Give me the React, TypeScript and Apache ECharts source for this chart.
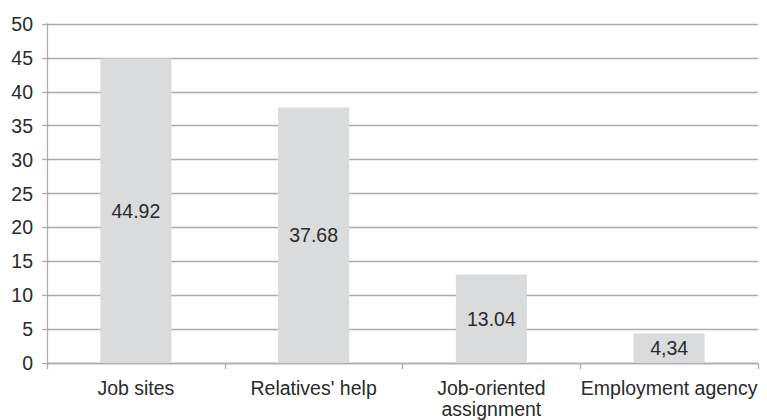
import React, { useEffect, useRef } from "react";
import * as echarts from "echarts";

const categories = ["Job sites", "Relatives' help", "Job-oriented\nassignment", "Employment agency"];
const values = [44.92, 37.68, 13.04, 4.34];
const valueLabels = ["44.92", "37.68", "13.04", "4,34"];

const TEXT = "#2a2a2a";
const LINE = "#adadad";
const FONT = "'Liberation Sans', Arial, sans-serif";
const FS = 19.5;

export default function App() {
  const ref = useRef<HTMLDivElement>(null);
  useEffect(() => {
    if (!ref.current) return;
    const chart = echarts.init(ref.current, undefined, { renderer: "svg" });
    chart.setOption({
      animation: false,
      textStyle: { fontFamily: FONT },
      grid: { left: 47, right: 9, top: 24, bottom: 57, containLabel: false },
      xAxis: {
        type: "category",
        data: categories,
        axisLine: { show: true, lineStyle: { color: LINE, width: 1.3 } },
        axisTick: { show: true, length: 6, lineStyle: { color: LINE, width: 1.3 } },
        axisLabel: { color: TEXT, fontSize: FS, fontFamily: FONT, margin: 14, lineHeight: 21, interval: 0 },
      },
      yAxis: {
        type: "value",
        min: 0,
        max: 50,
        interval: 5,
        axisLine: { show: true, lineStyle: { color: LINE, width: 1.3 } },
        axisTick: { show: true, length: 5, lineStyle: { color: LINE, width: 1.3 } },
        axisLabel: { color: TEXT, fontSize: FS, fontFamily: FONT, margin: 14 },
        splitLine: { show: true, lineStyle: { color: LINE, width: 1.3 } },
      },
      series: [
        {
          type: "bar",
          data: values,
          barCategoryGap: "60%",
          itemStyle: { color: "#dadbdc" },
          label: {
            show: true,
            position: "inside",
            color: TEXT,
            fontSize: FS,
            fontFamily: FONT,
            formatter: (p: any) => valueLabels[p.dataIndex],
          },
        },
      ],
    });
    return () => chart.dispose();
  }, []);
  return <div ref={ref} style={{ width: 767, height: 420, position: "absolute", left: 0, top: 0 }} />;
}
